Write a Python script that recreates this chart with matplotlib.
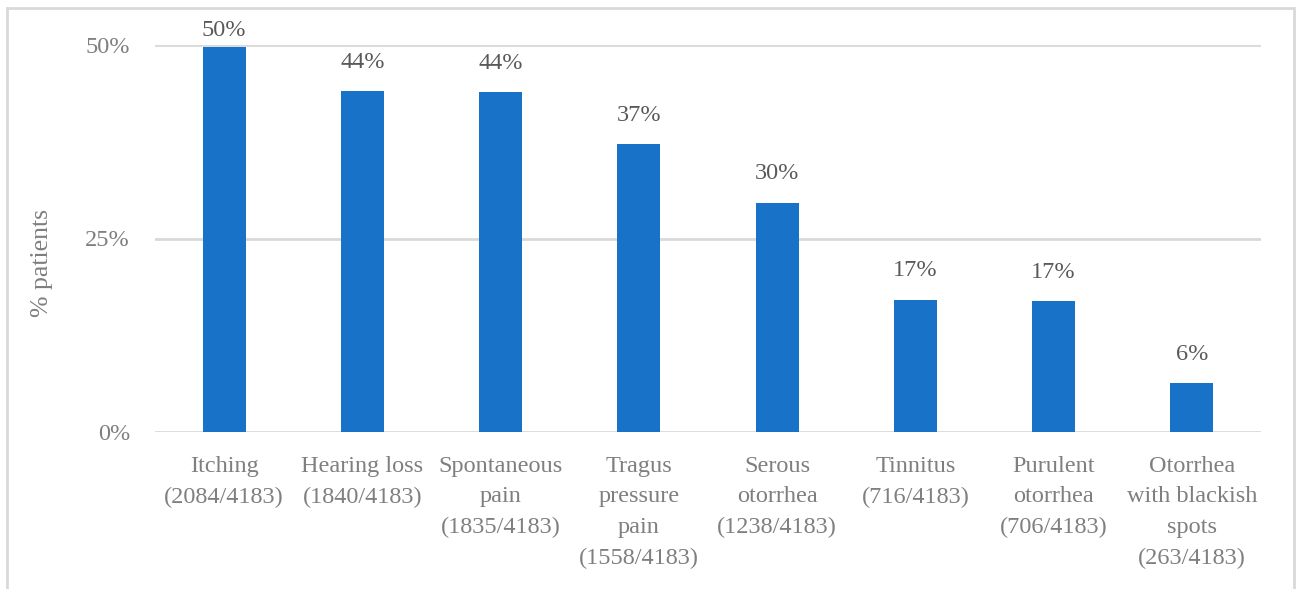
import matplotlib
matplotlib.use("Agg")
import matplotlib.pyplot as plt
from matplotlib.patches import Rectangle

categories = ["Itching\n(2084/4183)", "Hearing loss\n(1840/4183)", "Spontaneous\npain\n(1835/4183)",
              "Tragus\npressure\npain\n(1558/4183)", "Serous\notorrhea\n(1238/4183)",
              "Tinnitus\n(716/4183)", "Purulent\notorrhea\n(706/4183)",
              "Otorrhea\nwith blackish\nspots\n(263/4183)"]
values = [49.8, 44.0, 43.9, 37.2, 29.6, 17.1, 16.9, 6.3]
value_labels = ["50%", "44%", "44%", "37%", "30%", "17%", "17%", "6%"]
yticks = [0, 25, 50]
ytick_labels = ["0%", "25%", "50%"]

plt.rcParams['font.family'] = ['Liberation Serif', 'DejaVu Serif']

W, H = 1296, 589
fig = plt.figure(figsize=(W / 100, H / 100), dpi=100)
fig.patch.set_facecolor("white")

# outer frame (bottom cut off)
fig.patches.append(Rectangle((7 / W, -0.1), (1294 - 7) / W, 1.1 - 8 / H,
                             transform=fig.transFigure, fill=False,
                             edgecolor="#D9D9D9", linewidth=2.0, zorder=0))

left, right = 155, 1261
y0, y50 = 432, 45
ax = fig.add_axes([left / W, 1 - y0 / H, (right - left) / W, (y0 - y50) / H])
x = list(range(len(values)))
ax.bar(x, values, width=0.31, color="#1872C8", zorder=3)
ax.set_xlim(-0.5, len(values) - 0.5)
ax.set_ylim(0, 50)
ax.set_yticks(yticks)
ax.set_yticklabels(ytick_labels)
ax.set_xticks(x)
ax.set_xticklabels(categories, linespacing=1.61)
for s in ax.spines.values():
    s.set_visible(False)
ax.grid(axis="y", color="#D9D9D9", linewidth=2.0, zorder=0)
ax.tick_params(axis="both", length=0, colors="#7F7F7F", labelsize=17.5)
ax.tick_params(axis="x", pad=17)
ax.tick_params(axis="y", pad=18)
ax.set_ylabel("% patients", fontsize=18.5, color="#7F7F7F")
ax.yaxis.label.set_va("center")
ax.yaxis.set_label_coords((42 - left) / (right - left), (y0 - 263) / (y0 - y50))

fig.canvas.draw()
for xi, v, lab in zip(x, values, value_labels):
    px, py = ax.transData.transform((xi, v))
    ty = min(py + 29, H - 30)
    fig.text(px / W, ty / H, lab, ha="center", va="center", fontsize=17.5, color="#595959")

fig.savefig("out.png", dpi=100, facecolor="white")
